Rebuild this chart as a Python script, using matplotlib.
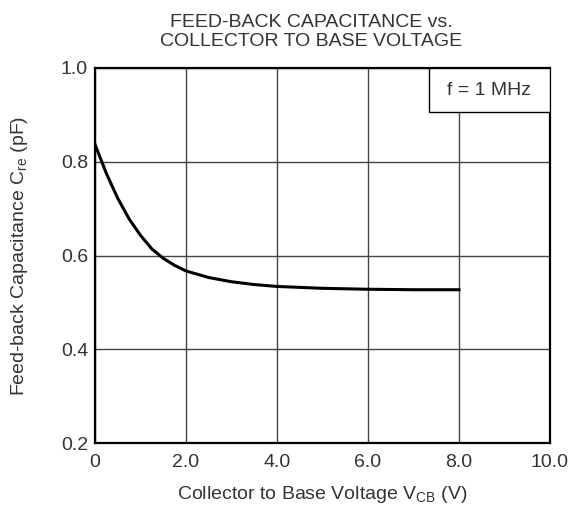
import matplotlib
matplotlib.use("Agg")
import matplotlib.pyplot as plt
from matplotlib.patches import Rectangle

# 读图估计的曲线数据 (V_CB, C_re)
vcb = [0.0, 0.25, 0.5, 0.75, 1.0, 1.25, 1.5, 1.75, 2.0, 2.5, 3.0, 3.5, 4.0, 5.0, 6.0, 7.0, 8.0]
cre = [0.837, 0.775, 0.722, 0.678, 0.643, 0.614, 0.594, 0.579, 0.567, 0.553, 0.544, 0.538, 0.534, 0.530, 0.528, 0.527, 0.527]

xticks = [0, 2, 4, 6, 8, 10]
xticklabels = ["0", "2.0", "4.0", "6.0", "8.0", "10.0"]
yticks = [0.2, 0.4, 0.6, 0.8, 1.0]
yticklabels = ["0.2", "0.4", "0.6", "0.8", "1.0"]

plt.rcParams['font.family'] = ['Liberation Sans', 'DejaVu Sans']
plt.rcParams['mathtext.fontset'] = 'custom'
plt.rcParams['mathtext.rm'] = 'Liberation Sans'
fs = 14
txt_color = '#333333'

fig = plt.figure(figsize=(5.74, 5.08), dpi=100)
ax = fig.add_axes([95 / 574, 65 / 508, 455 / 574, 375 / 508])

ax.plot(vcb, cre, color='black', linewidth=2.2, zorder=3)

ax.set_xlim(0, 10)
ax.set_ylim(0.2, 1.0)
ax.set_xticks(xticks)
ax.set_xticklabels(xticklabels)
ax.set_yticks(yticks)
ax.set_yticklabels(yticklabels)
ax.tick_params(length=0, labelsize=fs, colors=txt_color)
ax.tick_params(axis='x', pad=8)
ax.tick_params(axis='y', pad=5)
ax.grid(True, color='#444444', linewidth=1.0)
for s in ax.spines.values():
    s.set_linewidth(1.6)
    s.set_color('black')

# 右上角的条件框
box = Rectangle((0.734, 0.883), 0.266, 0.117, transform=ax.transAxes,
                facecolor='white', edgecolor='black', linewidth=1.0, zorder=4)
ax.add_patch(box)
ax.text(0.867, 0.94, "f = 1 MHz", transform=ax.transAxes, ha='center', va='center',
        fontsize=fs, color=txt_color, zorder=5)

ax.set_xlabel(r"Collector to Base Voltage V$_{\rm CB}$ (V)", fontsize=fs, color=txt_color, labelpad=9)
ax.set_ylabel(r"Feed-back Capacitance C$_{\rm re}$ (pF)", fontsize=fs, color=txt_color, labelpad=22)

fig.text(311 / 574, 1 - 32 / 508, "FEED-BACK CAPACITANCE vs.\nCOLLECTOR TO BASE VOLTAGE",
         ha='center', va='center', fontsize=fs, color=txt_color, linespacing=1.2)

fig.savefig("out.png", dpi=100, facecolor='white')
